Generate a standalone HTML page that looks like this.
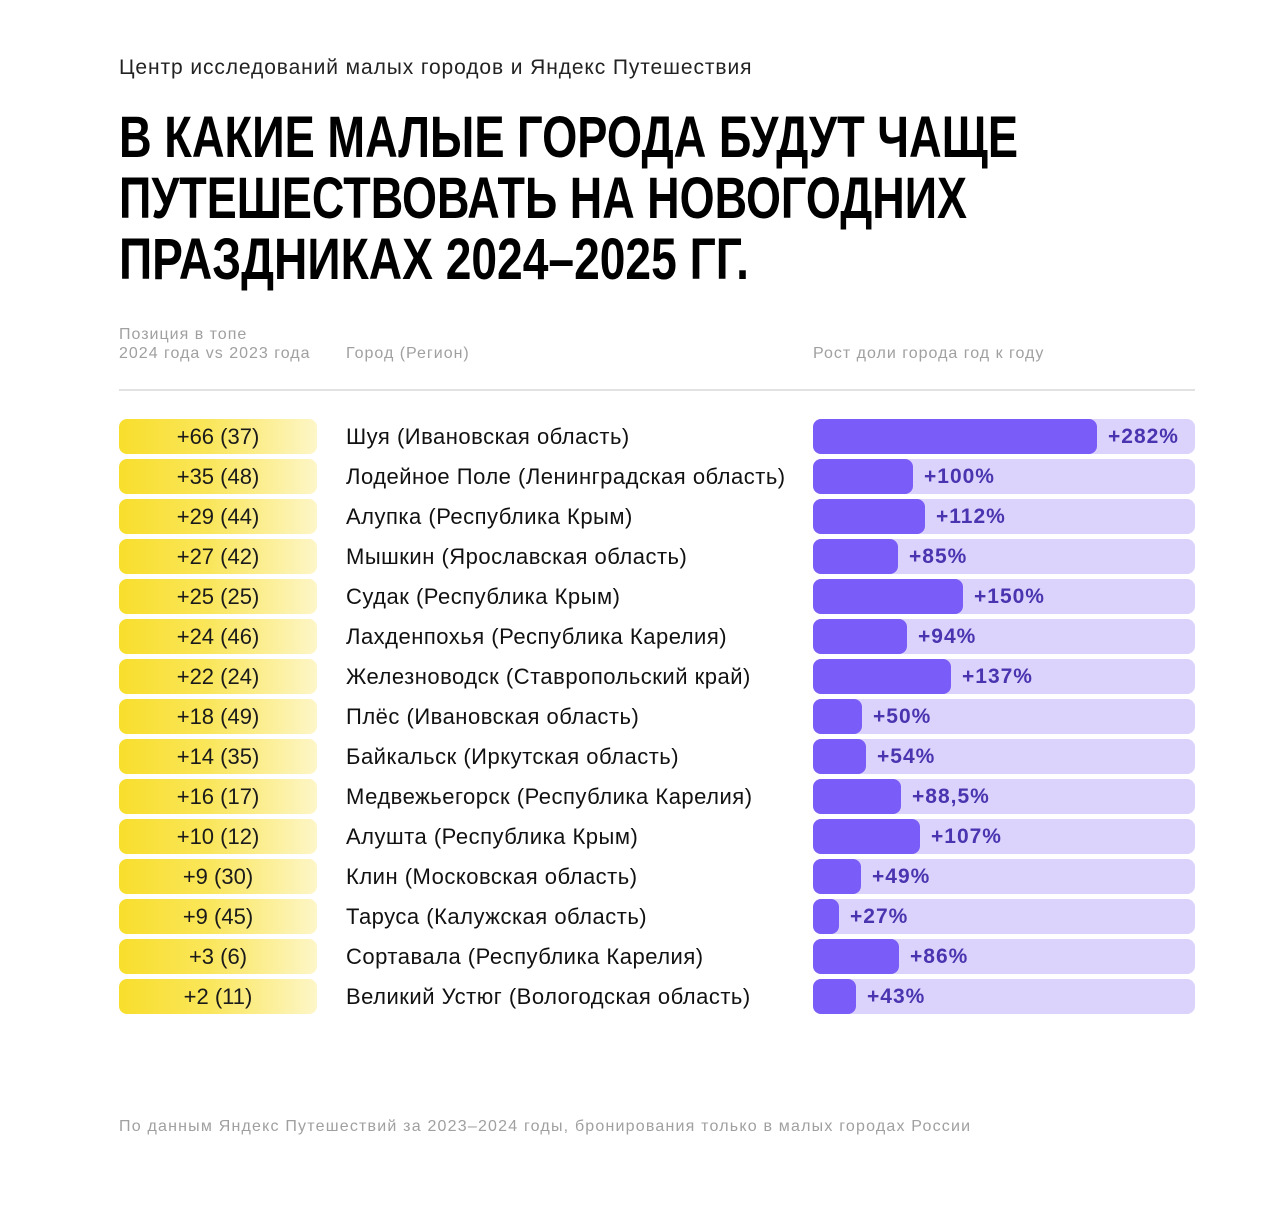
<!DOCTYPE html>
<html><head><meta charset="utf-8"><style>
body{margin:0;background:#fff;width:1280px;height:1207px;position:relative;font-family:"Liberation Sans",sans-serif;overflow:hidden}
.a{position:absolute;white-space:nowrap}
.sub{left:119px;top:56px;font-size:21px;color:#222;letter-spacing:0.9px}
.h{color:#a0a0a0;font-size:16px;line-height:19px;letter-spacing:1px}
.pill{position:absolute;left:119px;width:198px;height:35px;border-radius:8px;background:linear-gradient(90deg,#f8de2c 0%,#fae65a 45%,#fdf6c8 100%);text-align:center;line-height:35px;font-size:22px;color:#1a1a1a;letter-spacing:0px}
.city{position:absolute;left:346px;line-height:35px;font-size:22px;color:#111;letter-spacing:0.5px;white-space:nowrap}
.track{position:absolute;left:813px;width:382px;height:35px;border-radius:8px;background:#dcd3fc}
.bar{position:absolute;left:0;top:0;height:35px;border-radius:8px;background:#7a5cf8}
.lab{position:absolute;top:0;line-height:35px;font-size:21px;color:#4a34b0;font-weight:bold;letter-spacing:1px}
</style></head><body>
<div class="a sub">Центр исследований малых городов и Яндекс Путешествия</div>
<svg class="a" style="left:0;top:0" width="1280" height="300">
<g font-family="Liberation Sans Narrow, Liberation Sans, sans-serif" font-weight="bold" font-size="58" fill="#000">
<text x="119" y="157" textLength="899" lengthAdjust="spacingAndGlyphs">В КАКИЕ МАЛЫЕ ГОРОДА БУДУТ ЧАЩЕ</text>
<text x="119" y="218" textLength="848" lengthAdjust="spacingAndGlyphs">ПУТЕШЕСТВОВАТЬ НА НОВОГОДНИХ</text>
<text x="119" y="279" textLength="630" lengthAdjust="spacingAndGlyphs">ПРАЗДНИКАХ 2024–2025 ГГ.</text>
</g></svg>
<div class="a h" style="left:119px;top:325px">Позиция в топе<br>2024 года vs 2023 года</div>
<div class="a h" style="left:346px;top:344px">Город (Регион)</div>
<div class="a h" style="left:813px;top:344px">Рост доли города год к году</div>
<div class="a" style="left:119px;top:389px;width:1076px;height:2px;background:#e2e2e2"></div>
<div id="rows"></div>
<div class="a h" style="left:119px;top:1117px;letter-spacing:1.2px">По данным Яндекс Путешествий за 2023–2024 годы, бронирования только в малых городах России</div>
<script>
var d=[["+66 (37)","Шуя (Ивановская область)",284,"+282%"],["+35 (48)","Лодейное Поле (Ленинградская область)",100,"+100%"],["+29 (44)","Алупка (Республика Крым)",112,"+112%"],["+27 (42)","Мышкин (Ярославская область)",85,"+85%"],["+25 (25)","Судак (Республика Крым)",150,"+150%"],["+24 (46)","Лахденпохья (Республика Карелия)",94,"+94%"],["+22 (24)","Железноводск (Ставропольский край)",138,"+137%"],["+18 (49)","Плёс (Ивановская область)",49,"+50%"],["+14 (35)","Байкальск (Иркутская область)",53,"+54%"],["+16 (17)","Медвежьегорск (Республика Карелия)",88,"+88,5%"],["+10 (12)","Алушта (Республика Крым)",107,"+107%"],["+9 (30)","Клин (Московская область)",48,"+49%"],["+9 (45)","Таруса (Калужская область)",26,"+27%"],["+3 (6)","Сортавала (Республика Карелия)",86,"+86%"],["+2 (11)","Великий Устюг (Вологодская область)",43,"+43%"]];
var h="";d.forEach(function(r,i){var t=419+i*40;
h+='<div class="pill" style="top:'+t+'px">'+r[0]+'</div><div class="city" style="top:'+t+'px">'+r[1]+'</div><div class="track" style="top:'+t+'px"><div class="bar" style="width:'+r[2]+'px"></div><div class="lab" style="left:'+(r[2]+11)+'px">'+r[3]+'</div></div>';});
document.getElementById("rows").innerHTML=h;
</script>
</body></html>
